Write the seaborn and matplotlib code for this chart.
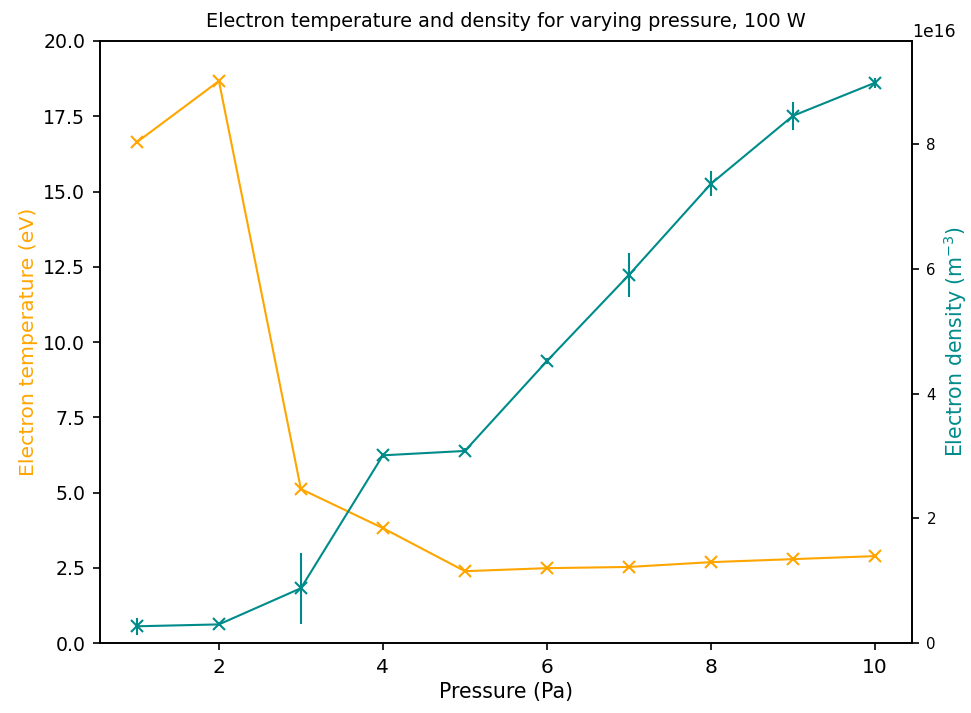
import matplotlib
matplotlib.use("Agg")
import matplotlib.pyplot as plt
import seaborn as sns
import numpy as np
import pandas as pd

pressure = [1, 2, 3, 4, 5, 6, 7, 8, 9, 10]
te_ev = [16.64, 18.67, 5.12, 3.82, 2.39, 2.49, 2.53, 2.69, 2.79, 2.89]
ne_e16 = [0.27, 0.30, 0.88, 3.01, 3.08, 4.52, 5.90, 7.36, 8.45, 8.98]
ne_err_e16 = [0.14, 0.03, 0.57, 0.04, 0.04, 0.05, 0.35, 0.20, 0.22, 0.08]

ne = np.array(ne_e16) * 1e16
ne_err = np.array(ne_err_e16) * 1e16
df = pd.DataFrame({"p": pressure, "te": te_ev, "ne": ne})

plt.rcParams['font.family'] = ['DejaVu Sans']
plt.rcParams['axes.linewidth'] = 1.2
for a in ('xtick', 'ytick'):
    plt.rcParams[f'{a}.major.size'] = 5.3
    plt.rcParams[f'{a}.major.width'] = 1.2
    plt.rcParams[f'{a}.major.pad'] = 5.3

fig = plt.figure(figsize=(9.71, 7.13), dpi=100)
ax = fig.add_axes([0.103, 0.098, 0.836, 0.8445])
c1 = "#FFA500"
c2 = "#008b8b"

sns.lineplot(data=df, x="p", y="te", ax=ax, color=c1, marker="x",
             markersize=9, markeredgewidth=1.5, markeredgecolor=c1,
             linewidth=1.5)
ax.set_ylim(0, 20)
ax.set_xlabel("Pressure (Pa)", fontsize=14.8)
ax.set_ylabel("Electron temperature (eV)", color=c1, fontsize=14.7)
ax.tick_params(axis='x', labelsize=14.5)
ax.tick_params(axis='y', labelsize=13.6)
ax.set_title("Electron temperature and density for varying pressure, 100 W",
             fontsize=13.9, pad=10)

ax2 = ax.twinx()
sns.lineplot(data=df, x="p", y="ne", ax=ax2, color=c2, marker="x",
             markersize=9, markeredgewidth=1.5, markeredgecolor=c2,
             linewidth=1.5)
ax2.errorbar(pressure, ne, yerr=ne_err, fmt='none', ecolor=c2, elinewidth=1.5)
ax2.set_ylim(0, 9.65e16)
ax2.set_ylabel(r"Electron density (m$^{-3}$)", color=c2, fontsize=14.8)
ax2.tick_params(axis='y', labelsize=10.8)
off = ax2.yaxis.get_offset_text()
off.set_fontsize(12.3)
off.set_horizontalalignment('left')
ax.set_xlim(0.55, 10.45)

fig.savefig("out.png", dpi=100)
